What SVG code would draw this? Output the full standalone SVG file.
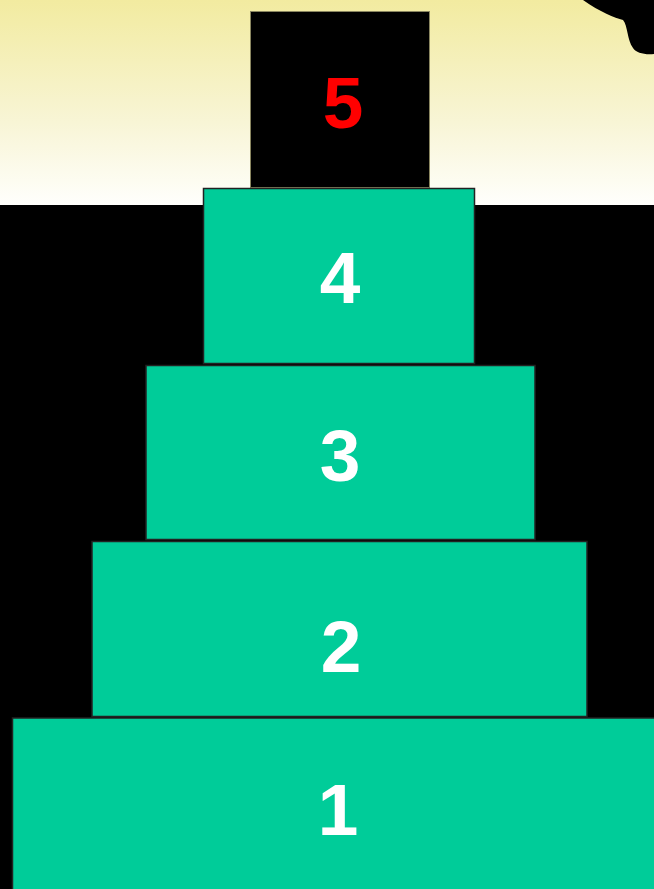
<svg xmlns="http://www.w3.org/2000/svg" width="654" height="889" viewBox="0 0 654 889">
<defs>
<linearGradient id="sky" x1="0" y1="0" x2="0" y2="1">
<stop offset="0" stop-color="#F2EBA0"/>
<stop offset="0.6" stop-color="#F8F5D6"/>
<stop offset="1" stop-color="#FFFFFC"/>
</linearGradient>
<style>
.blk{fill:#00CC99;stroke:#222;stroke-width:1.5}
.num{font-family:"Liberation Sans",Arial,sans-serif;font-weight:bold;font-size:73px;text-anchor:middle;fill:#fff}
</style>
</defs>
<rect x="0" y="0" width="654" height="205" fill="url(#sky)"/>
<rect x="0" y="205" width="654" height="684" fill="#000"/>
<path d="M583,0 C600,12 615,18 623,20 C628,26 627,40 633,48 C636,53 645,55 654,54 L654,0 Z" fill="#000"/>
<g id="node5">
<rect x="250.5" y="11.5" width="179" height="176" fill="#000" stroke="#8a8660" stroke-width="1"/>
<text class="num" x="343" y="128" style="fill:#FF0000">5</text>
</g>
<g id="node4">
<rect class="blk" x="203.5" y="188.5" width="271" height="175"/>
<text class="num" x="340" y="303">4</text>
</g>
<g id="node3">
<rect class="blk" x="146" y="365.5" width="389" height="174"/>
<text class="num" x="340" y="481">3</text>
</g>
<g id="node2">
<rect class="blk" x="92" y="541.5" width="495" height="175"/>
<text class="num" x="341" y="672">2</text>
</g>
<g id="node1">
<rect class="blk" x="12.5" y="718" width="645" height="175"/>
<text class="num" x="338" y="835">1</text>
</g>
<g id="connectors"/>
</svg>
